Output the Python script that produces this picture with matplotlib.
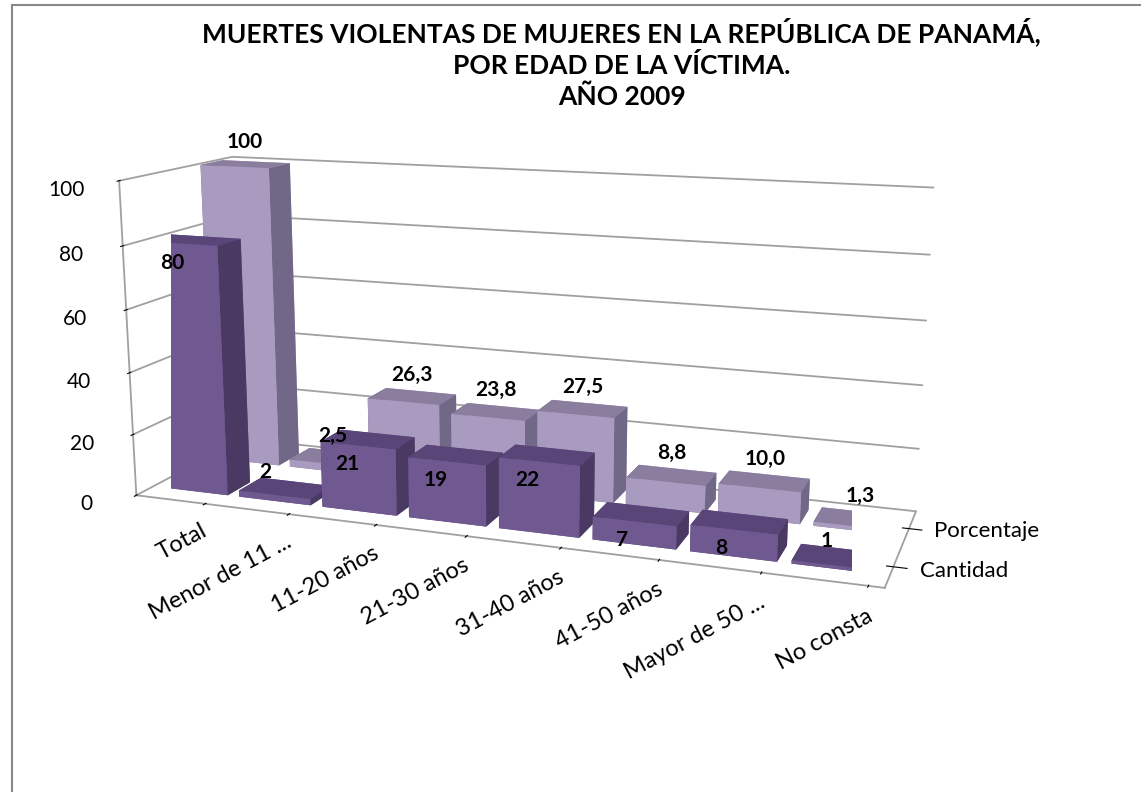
import matplotlib.pyplot as plt
import numpy as np
from matplotlib.lines import Line2D

# datos
categorias = ['Total', 'Menor de 11 ...', '11-20 años', '21-30 años', '31-40 años',
              '41-50 años', 'Mayor de 50 ...', 'No consta']
series = ['Cantidad', 'Porcentaje']
cantidad = [80, 2, 21, 19, 22, 7, 8, 1]
porcentaje = [100, 2.5, 26.3, 23.8, 27.5, 8.8, 10.0, 1.3]
etiq_cantidad = ['80', '2', '21', '19', '22', '7', '8', '1']
etiq_porcentaje = ['100', '2,5', '26,3', '23,8', '27,5', '8,8', '10,0', '1,3']

plt.rcParams['font.family'] = ['Lato', 'DejaVu Sans']

fig = plt.figure(figsize=(11.41, 7.92), dpi=100)
ax = fig.add_axes([-0.032, 0.12, 0.96, 0.86], projection='3d')

n = len(categorias)
xs = np.arange(n)
dx, dy = 0.86, 0.42

def caras(frente, arriba, lado):
    # orden de bar3d: abajo, arriba, -y, +y, -x, +x
    return [arriba, arriba, frente, frente, lado, lado]

col_c = caras('#705990', '#594577', '#4a3a63') * n
col_p = caras('#a99bc0', '#8a7d9e', '#716787') * n

ax.bar3d(xs - dx / 2, np.full(n, 1 - dy / 2), np.zeros(n), dx, dy, porcentaje,
         color=col_p, shade=False, edgecolor='none')
ax.bar3d(xs - dx / 2, np.full(n, 0 - dy / 2), np.zeros(n), dx, dy, cantidad,
         color=col_c, shade=False, edgecolor='none')

for i in range(n):
    ax.text(xs[i], 1, porcentaje[i] + 4, etiq_porcentaje[i], ha='center', va='bottom',
            fontsize=15, fontweight='bold', zorder=10)
    if cantidad[i] > 5:
        ax.text(xs[i] - 0.12, -dy / 2, cantidad[i] - 3, etiq_cantidad[i], ha='center', va='top',
                fontsize=15, fontweight='bold', zorder=10)
    else:
        ax.text(xs[i] - 0.1, -dy / 2, cantidad[i] + 4, etiq_cantidad[i], ha='center', va='bottom',
                fontsize=15, fontweight='bold', zorder=10)

ax.set_xlim(-0.5, n - 0.5)
ax.set_ylim(-0.5, 1.5)
ax.set_zlim(0, 100)
# marcas desplazadas hacia el límite entre categorías, como en Excel
ax.set_xticks(xs + 0.35)
ax.set_xticklabels(categorias, rotation=28, ha='right', va='top', rotation_mode='anchor',
                   fontsize=17)
ax.set_yticks([0, 1])
ax.set_yticklabels(series, fontsize=16, ha='left', va='bottom')
ax.set_zticks(range(0, 101, 20))
ax.tick_params(axis='z', labelsize=15, pad=9)
ax.tick_params(axis='y', pad=0)
ax.zaxis.set_ticks_position('lower')
ax.zaxis.set_label_position('lower')

for eje in (ax.xaxis, ax.yaxis, ax.zaxis):
    eje.set_pane_color((1, 1, 1, 1))
    eje.pane.set_edgecolor((1, 1, 1, 0))
    eje.line.set_color('#a0a0a0')
    eje.line.set_linewidth(1.3)
    eje._axinfo['tick']['color'] = '#a0a0a0'
ax.xaxis._axinfo['grid']['color'] = (1, 1, 1, 0)
ax.yaxis._axinfo['grid']['color'] = (1, 1, 1, 0)
ax.zaxis._axinfo['grid'].update(color='#a0a0a0', linewidth=1.3)

ax.view_init(elev=13, azim=-70)
ax.set_proj_type('persp', focal_length=0.45)
ax.set_box_aspect((4.45, 1.3, 1.9), zoom=1.23)

fig.text(0.545, 0.978, 'MUERTES VIOLENTAS DE MUJERES EN LA REPÚBLICA DE PANAMÁ,\n'
         'POR EDAD DE LA VÍCTIMA.\nAÑO 2009', ha='center', va='top',
         fontsize=19, fontweight='bold', linespacing=1.32)

fig.add_artist(Line2D([12 / 1141, 1], [1 - 5 / 792, 1 - 5 / 792], color='#888888', lw=1.5))
fig.add_artist(Line2D([12 / 1141, 12 / 1141], [0, 1 - 5 / 792], color='#888888', lw=1.5))

fig.savefig('out.png', dpi=100)
